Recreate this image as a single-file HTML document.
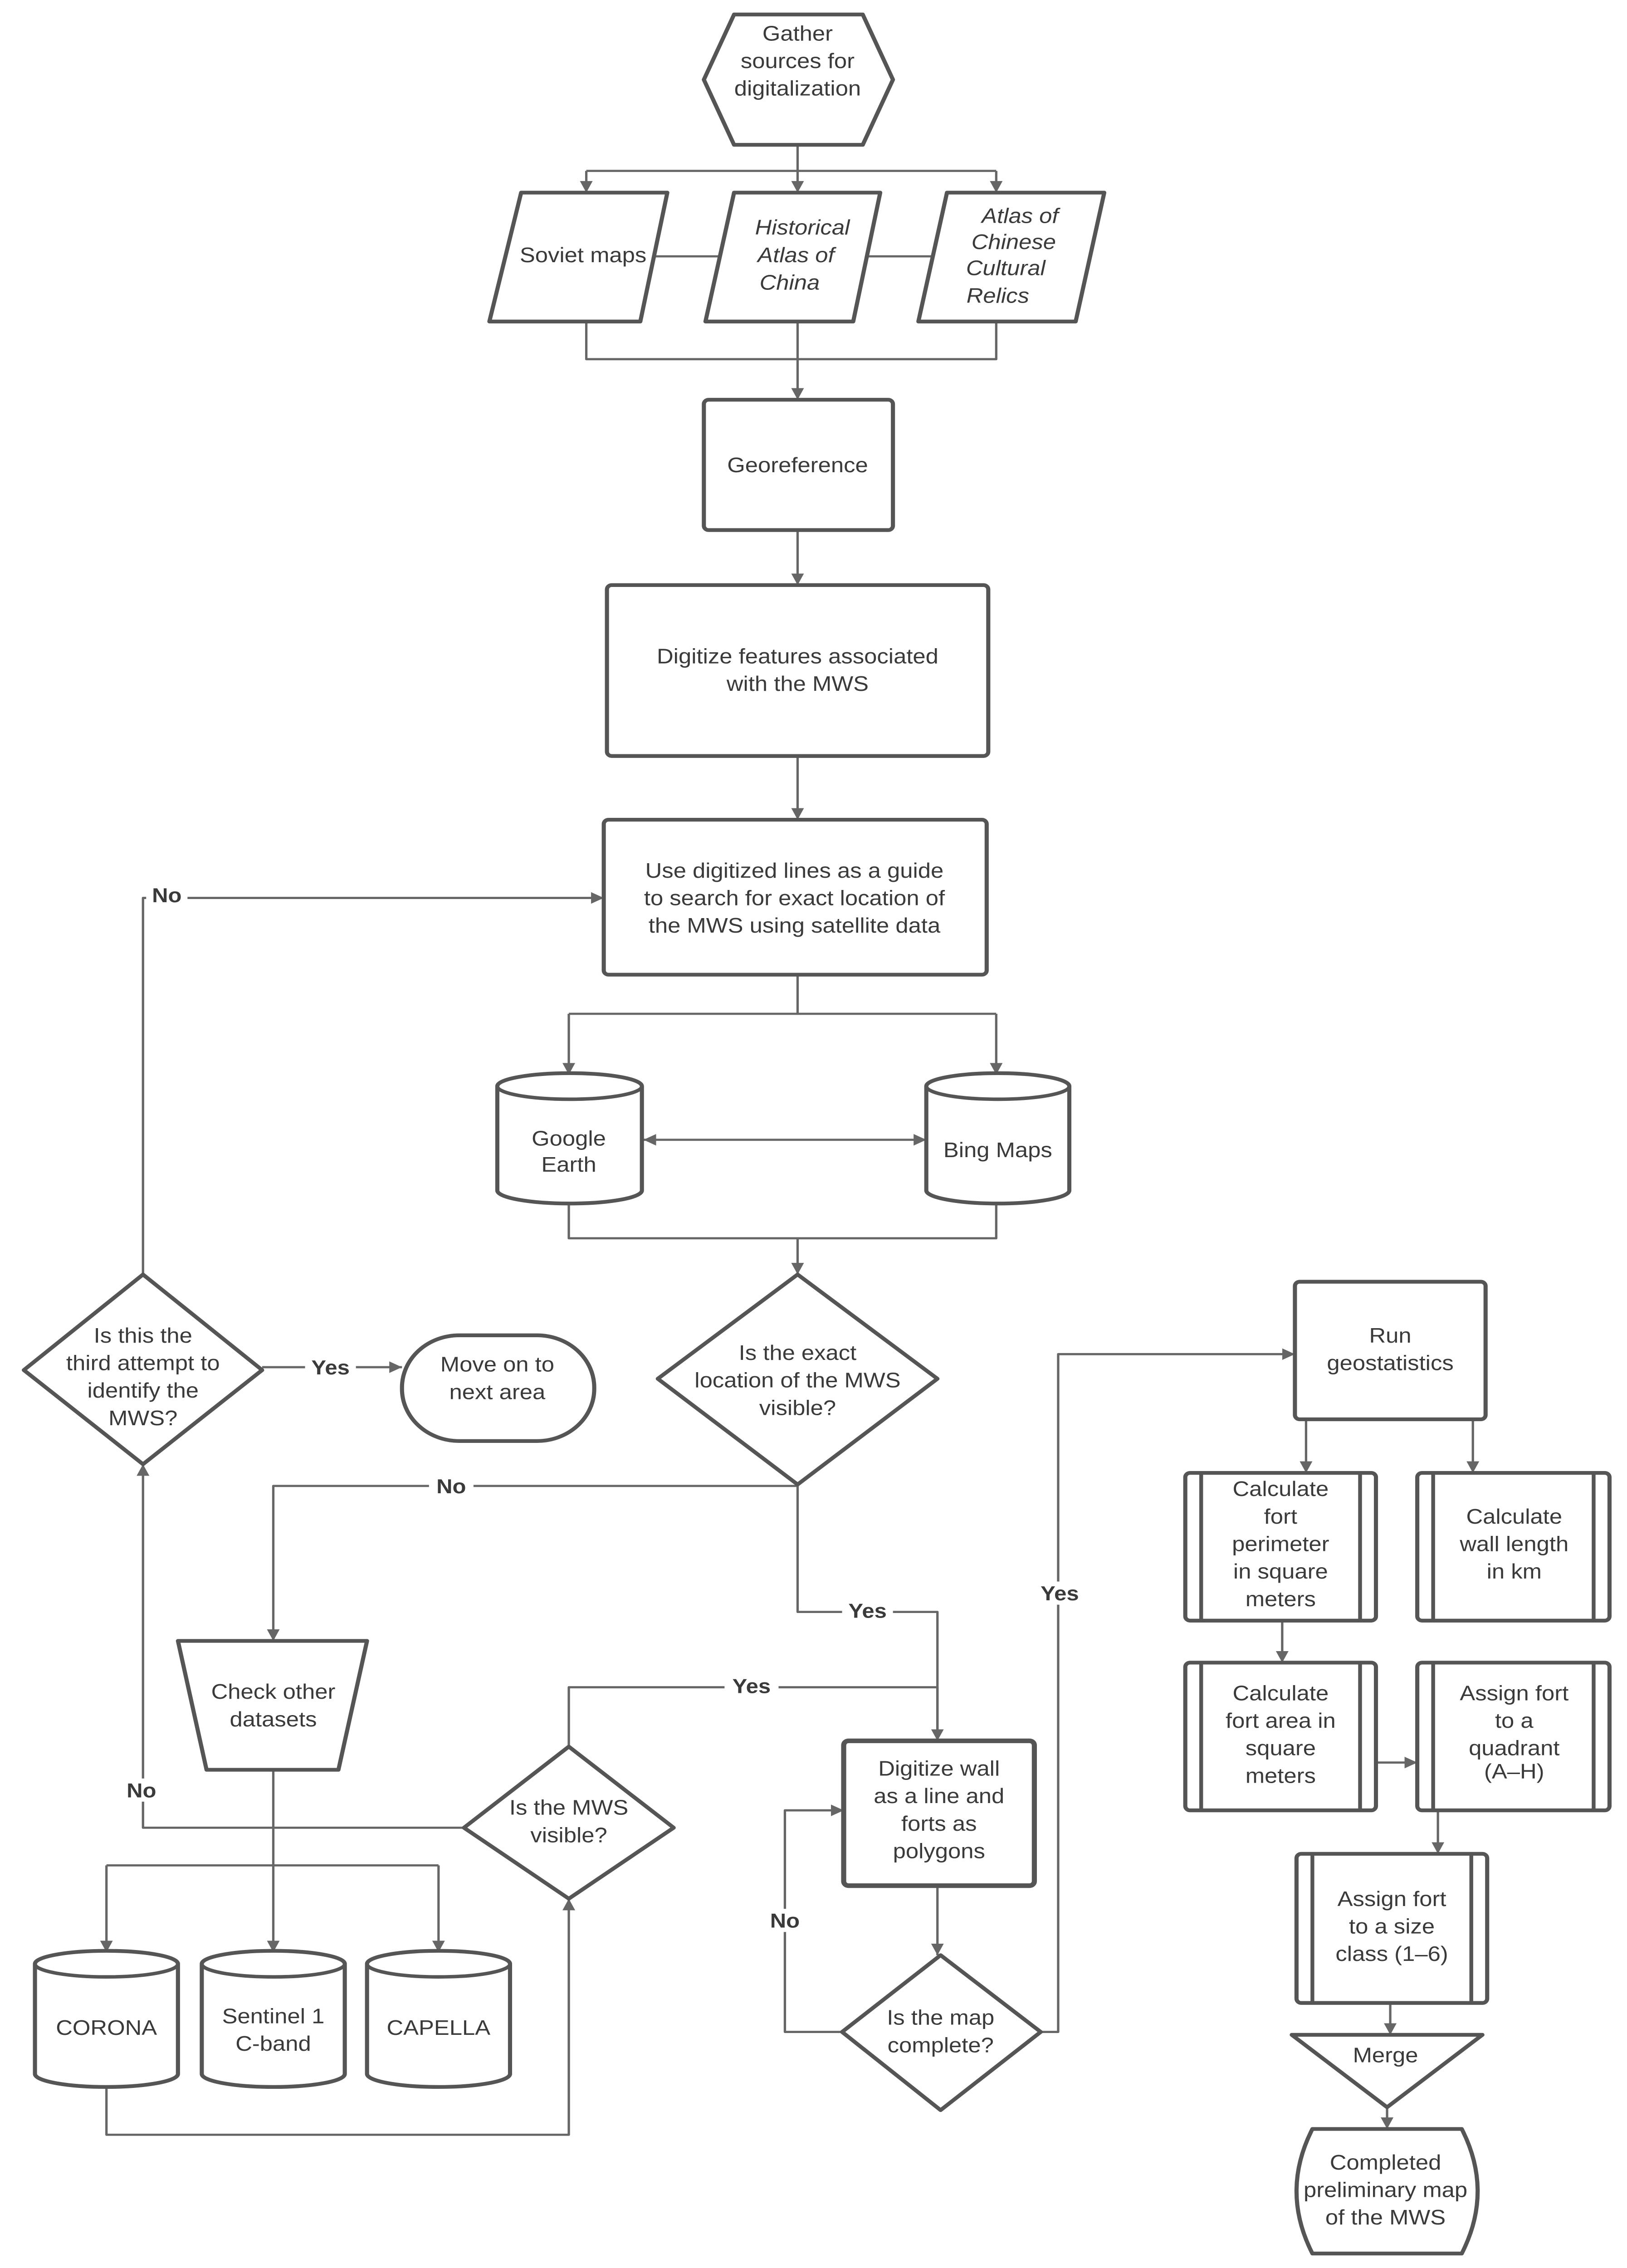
<!DOCTYPE html>
<html><head><meta charset="utf-8"><style>
html,body{margin:0;padding:0;background:#fff;width:100%;height:100%;overflow:hidden;}
svg{display:block;position:fixed;left:0;top:0;width:100vw;height:100vh;}
text{font-family:"Liberation Sans",sans-serif;font-size:14.5px;fill:#3a3a3a;text-anchor:middle;}
.b{font-weight:bold;font-size:14px;}
.i{font-style:italic;}
.s{fill:#fff;stroke:#555;stroke-width:2.6;stroke-linejoin:round;}
.l{fill:none;stroke:#666;stroke-width:1.5;stroke-linejoin:round;}
</style></head><body>
<svg viewBox="0 0 1024 1566" preserveAspectRatio="none" xmlns="http://www.w3.org/2000/svg">
<defs>
<marker id="a" viewBox="0 0 10 10" refX="10" refY="5" markerWidth="8" markerHeight="8" markerUnits="userSpaceOnUse" orient="auto-start-reverse"><path d="M0,0 L10,5 L0,10 Z" fill="#666"/></marker>
</defs>
<rect width="1024" height="1566" fill="#fff"/>

<path class="l" d="M502,100 V118"/>
<path class="l" d="M369,118 H627"/>
<path class="l" d="M369,118 V133" marker-end="url(#a)"/>
<path class="l" d="M502,118 V133" marker-end="url(#a)"/>
<path class="l" d="M627,118 V133" marker-end="url(#a)"/>
<path class="l" d="M408,177 H452 M542,177 H586"/>
<path class="l" d="M369,222 V248 H627 V222"/>
<path class="l" d="M502,222 V276" marker-end="url(#a)"/>
<path class="l" d="M502,366 V404" marker-end="url(#a)"/>
<path class="l" d="M502,522 V566" marker-end="url(#a)"/>
<path class="l" d="M502,673 V700"/>
<path class="l" d="M358,700 H627"/>
<path class="l" d="M358,700 V742" marker-end="url(#a)"/>
<path class="l" d="M627,700 V742" marker-end="url(#a)"/>
<path class="l" d="M405,787 H583" marker-start="url(#a)" marker-end="url(#a)"/>
<path class="l" d="M358,830 V855 H627 V830"/>
<path class="l" d="M502,855 V880" marker-end="url(#a)"/>
<path class="l" d="M90,880 V620 H380" marker-end="url(#a)"/>
<path class="l" d="M165,944 H253" marker-end="url(#a)"/>
<path class="l" d="M502,1026 H172 V1133" marker-end="url(#a)"/>
<path class="l" d="M502,1026 V1113 H590 V1202" marker-end="url(#a)"/>
<path class="l" d="M172,1222 V1288"/>
<path class="l" d="M67,1288 H276"/>
<path class="l" d="M67,1288 V1348" marker-end="url(#a)"/>
<path class="l" d="M172,1288 V1348" marker-end="url(#a)"/>
<path class="l" d="M276,1288 V1348" marker-end="url(#a)"/>
<path class="l" d="M67,1440 V1474 H358 V1311" marker-end="url(#a)"/>
<path class="l" d="M358,1206 V1165 H590 V1202"/>
<path class="l" d="M292,1262 H90 V1011" marker-end="url(#a)"/>
<path class="l" d="M590,1302 V1350" marker-end="url(#a)"/>
<path class="l" d="M530,1403 H494 V1250 H531" marker-end="url(#a)"/>
<path class="l" d="M655,1403 H666 V935 H815" marker-end="url(#a)"/>
<path class="l" d="M822,980 V1017" marker-end="url(#a)"/>
<path class="l" d="M927,980 V1017" marker-end="url(#a)"/>
<path class="l" d="M807,1119 V1148" marker-end="url(#a)"/>
<path class="l" d="M866,1217 H892" marker-end="url(#a)"/>
<path class="l" d="M905,1250 V1280" marker-end="url(#a)"/>
<path class="l" d="M875,1383 V1405" marker-end="url(#a)"/>
<path class="l" d="M873,1455 V1470" marker-end="url(#a)"/>

<rect x="92" y="610" width="26" height="16" fill="#fff"/><text class="b" x="105" y="623">No</text>
<rect x="192" y="936" width="32" height="16" fill="#fff"/><text class="b" x="208" y="949">Yes</text>
<rect x="270" y="1018" width="28" height="16" fill="#fff"/><text class="b" x="284" y="1031">No</text>
<rect x="530" y="1104" width="32" height="16" fill="#fff"/><text class="b" x="546" y="1117">Yes</text>
<rect x="456" y="1156" width="34" height="16" fill="#fff"/><text class="b" x="473" y="1169">Yes</text>
<rect x="76" y="1228" width="28" height="16" fill="#fff"/><text class="b" x="89" y="1241">No</text>
<rect x="480" y="1318" width="28" height="16" fill="#fff"/><text class="b" x="494" y="1331">No</text>
<rect x="650" y="1092" width="34" height="16" fill="#fff"/><text class="b" x="667" y="1105">Yes</text>

<path class="s" d="M462,10 H543 L562,55 L543,100 H462 L443,55 Z"/>
<text x="502" y="28">Gather</text><text x="502" y="47">sources for</text><text x="502" y="66">digitalization</text>

<path class="s" d="M328,133 H420 L403,222 H308 Z"/>
<text x="367" y="181">Soviet maps</text>
<path class="s" d="M462,133 H554 L537,222 H444 Z"/>
<text class="i" x="505" y="162">Historical</text><text class="i" x="501" y="181">Atlas of</text><text class="i" x="497" y="200">China</text>
<path class="s" d="M596,133 H695 L677,222 H578 Z"/>
<text class="i" x="642" y="154">Atlas of</text><text class="i" x="638" y="172">Chinese</text><text class="i" x="633" y="190">Cultural</text><text class="i" x="628" y="209">Relics</text>

<rect class="s" x="443" y="276" width="119" height="90" rx="3"/>
<text x="502" y="326">Georeference</text>
<rect class="s" x="382" y="404" width="240" height="118" rx="3"/>
<text x="502" y="458">Digitize features associated</text><text x="502" y="477">with the MWS</text>
<rect class="s" x="380" y="566" width="241" height="107" rx="3"/>
<text x="500" y="606">Use digitized lines as a guide</text><text x="500" y="625">to search for exact location of</text><text x="500" y="644">the MWS using satellite data</text>

<path class="s" d="M313,750 A45.5,9 0 0 1 404,750 V822 A45.5,9 0 0 1 313,822 Z"/>
<path class="l" style="stroke:#555;stroke-width:2.4" d="M313,750 A45.5,9 0 0 0 404,750"/>
<text x="358" y="791">Google</text><text x="358" y="809">Earth</text>
<path class="s" d="M583,750 A45,9 0 0 1 673,750 V822 A45,9 0 0 1 583,822 Z"/>
<path class="l" style="stroke:#555;stroke-width:2.4" d="M583,750 A45,9 0 0 0 673,750"/>
<text x="628" y="799">Bing Maps</text>

<path class="s" d="M502,880 L590,952 L502,1025 L414,952 Z"/>
<text x="502" y="939">Is the exact</text><text x="502" y="958">location of the MWS</text><text x="502" y="977">visible?</text>
<path class="s" d="M90,880 L165,946 L90,1011 L15,946 Z"/>
<text x="90" y="927">Is this the</text><text x="90" y="946">third attempt to</text><text x="90" y="965">identify the</text><text x="90" y="984">MWS?</text>
<rect class="s" x="253" y="922" width="121" height="73" rx="36"/>
<text x="313" y="947">Move on to</text><text x="313" y="966">next area</text>

<path class="s" d="M112,1133 H231 L213,1222 H130 Z"/>
<text x="172" y="1173">Check other</text><text x="172" y="1192">datasets</text>

<path class="s" d="M358,1206 L424,1262 L358,1311 L292,1262 Z"/>
<text x="358" y="1253">Is the MWS</text><text x="358" y="1272">visible?</text>

<path class="s" d="M22,1356 A45,9 0 0 1 112,1356 V1432 A45,9 0 0 1 22,1432 Z"/>
<path class="l" style="stroke:#555;stroke-width:2.4" d="M22,1356 A45,9 0 0 0 112,1356"/>
<text x="67" y="1405">CORONA</text>
<path class="s" d="M127,1356 A45,9 0 0 1 217,1356 V1432 A45,9 0 0 1 127,1432 Z"/>
<path class="l" style="stroke:#555;stroke-width:2.4" d="M127,1356 A45,9 0 0 0 217,1356"/>
<text x="172" y="1397">Sentinel 1</text><text x="172" y="1416">C-band</text>
<path class="s" d="M231,1356 A45,9 0 0 1 321,1356 V1432 A45,9 0 0 1 231,1432 Z"/>
<path class="l" style="stroke:#555;stroke-width:2.4" d="M231,1356 A45,9 0 0 0 321,1356"/>
<text x="276" y="1405">CAPELLA</text>

<rect class="s" style="stroke-width:3.2" x="531" y="1202" width="120" height="100" rx="3"/>
<text x="591" y="1226">Digitize wall</text><text x="591" y="1245">as a line and</text><text x="591" y="1264">forts as</text><text x="591" y="1283">polygons</text>

<path class="s" d="M592,1350 L655,1403 L592,1457 L530,1403 Z"/>
<text x="592" y="1398">Is the map</text><text x="592" y="1417">complete?</text>

<rect class="s" x="815" y="885" width="120" height="95" rx="3"/>
<text x="875" y="927">Run</text><text x="875" y="946">geostatistics</text>

<rect class="s" x="746" y="1017" width="120" height="102" rx="3"/>
<path class="l" style="stroke:#555;stroke-width:2.4" d="M756,1017 V1119 M856,1017 V1119"/>
<text x="806" y="1033">Calculate</text><text x="806" y="1052">fort</text><text x="806" y="1071">perimeter</text><text x="806" y="1090">in square</text><text x="806" y="1109">meters</text>

<rect class="s" x="892" y="1017" width="121" height="102" rx="3"/>
<path class="l" style="stroke:#555;stroke-width:2.4" d="M902,1017 V1119 M1003,1017 V1119"/>
<text x="953" y="1052">Calculate</text><text x="953" y="1071">wall  length</text><text x="953" y="1090">in km</text>

<rect class="s" x="746" y="1148" width="120" height="102" rx="3"/>
<path class="l" style="stroke:#555;stroke-width:2.4" d="M756,1148 V1250 M856,1148 V1250"/>
<text x="806" y="1174">Calculate</text><text x="806" y="1193">fort area in</text><text x="806" y="1212">square</text><text x="806" y="1231">meters</text>

<rect class="s" x="892" y="1148" width="121" height="102" rx="3"/>
<path class="l" style="stroke:#555;stroke-width:2.4" d="M902,1148 V1250 M1003,1148 V1250"/>
<text x="953" y="1174">Assign fort</text><text x="953" y="1193">to a</text><text x="953" y="1212">quadrant</text><text x="953" y="1228">(A–H)</text>

<rect class="s" x="816" y="1280" width="120" height="103" rx="3"/>
<path class="l" style="stroke:#555;stroke-width:2.4" d="M826,1280 V1383 M926,1280 V1383"/>
<text x="876" y="1316">Assign fort</text><text x="876" y="1335">to a size</text><text x="876" y="1354">class (1–6)</text>

<path class="s" d="M813,1405 H933 L873,1455 Z"/>
<text x="872" y="1424">Merge</text>

<path class="s" d="M826,1470 H920 Q940,1513 920,1556 H826 Q806,1513 826,1470 Z"/>
<text x="872" y="1498">Completed</text><text x="872" y="1517">preliminary map</text><text x="872" y="1536">of the MWS</text>
</svg>
</body></html>
